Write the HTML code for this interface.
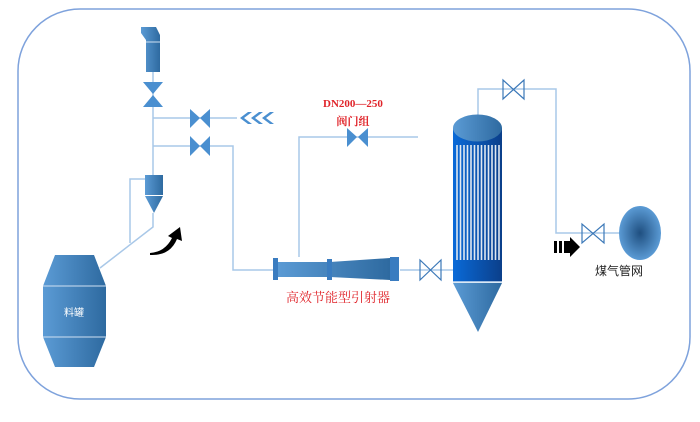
<!DOCTYPE html>
<html><head><meta charset="utf-8"><style>body{margin:0;background:#fff}svg{display:block}</style></head><body>
<svg width="700" height="422" viewBox="0 0 700 422" xmlns="http://www.w3.org/2000/svg" font-family="Liberation Serif, Noto Serif CJK SC, serif">
<defs>
<linearGradient id="g" x1="0" x2="1"><stop offset="0" stop-color="#5b9bd5"/><stop offset="1" stop-color="#2e6aa0"/></linearGradient>
<linearGradient id="gc" x1="0" x2="1"><stop offset="0" stop-color="#0a6ad8"/><stop offset="1" stop-color="#0b3f8a"/></linearGradient>
<radialGradient id="rg"><stop offset="0" stop-color="#1f4f80"/><stop offset="1" stop-color="#5b9bd5"/></radialGradient>
</defs>
<rect x="18" y="9" width="672" height="390" rx="62" fill="none" stroke="#7ea2dc" stroke-width="1.5"/>
<g stroke="#a9c8e8" stroke-width="1.5" fill="none">
<path d="M153 72V175M153 118H237M153 146H233V270H273M153 213V227L100 268M130 243V179H145M299 257V137H418M400 270H453M478 115V89H556V233H619"/>
</g>
<path d="M141 27H156L160 35V72H146V40L141 33Z" fill="url(#g)"/>
<line x1="146" y1="42" x2="160" y2="42" stroke="#cfe0f2" stroke-width="1"/>
<g fill="#4a8fd0">
<path d="M143 82H163L153 94ZM143 107H163L153 95Z"/>
<path d="M190 109V128L200 118ZM210 109V128L200 118Z"/>
<path d="M190 136V156L200 146ZM210 136V156L200 146Z"/>
<path d="M347 128V147L357 137ZM368 128V147L358 137Z"/>
<path d="M248 112L240 118L248 124H252L244 118L252 112Z"/>
<path d="M259 112L251 118L259 124H263L255 118L263 112Z"/>
<path d="M270 112L262 118L270 124H274L266 118L274 112Z"/>
</g>
<g fill="none" stroke="#3b78b8" stroke-width="1.2">
<path d="M420 260V280L441 260V280Z"/>
<path d="M503 80V99L524 80V99Z"/>
<path d="M582 224V243L604 224V243Z"/>
</g>
<path d="M145 175H163V195H145Z" fill="url(#g)"/>
<path d="M145 196H163L154 213Z" fill="url(#g)"/>
<path d="M150 253Q165 252 172 238L168 236L180 227L182 241L177 239Q170 256 150 255Z" fill="#000"/>
<path d="M55 255H94L106 286V337L94 367H55L43 337V286Z" fill="url(#g)"/>
<g stroke="#cfe0f2" stroke-width="1"><line x1="43" y1="286" x2="106" y2="286"/><line x1="43" y1="337" x2="106" y2="337"/></g>
<text x="74" y="316" fill="#fff" font-size="10" text-anchor="middle" font-family="Liberation Sans, Noto Sans CJK SC, sans-serif">料罐</text>
<path d="M276 262H330L390 258V280L330 277H276Z" fill="url(#g)"/>
<rect x="273" y="258" width="5" height="22" fill="#3a7cc0"/>
<rect x="327" y="259" width="5" height="21" fill="#3a7cc0"/>
<rect x="390" y="257" width="9" height="24" fill="#3a7cc0"/>
<text x="338" y="302" fill="#e0242a" font-size="13" text-anchor="middle">高效节能型引射器</text>
<text x="353" y="107" fill="#e0242a" font-size="11" font-weight="bold" text-anchor="middle">DN200—250</text>
<text x="353" y="125" fill="#e0242a" font-size="11" font-weight="bold" text-anchor="middle">阀门组</text>
<rect x="453" y="128" width="49" height="154" fill="url(#gc)"/>
<ellipse cx="477.5" cy="128" rx="24.5" ry="13.5" fill="url(#g)"/>
<g stroke="#dfe8f1" stroke-width="1.6">
<path d="M457 145V260M460.5 145V260M464 145V260M467.5 145V260M471 145V260M474.5 145V260M478 145V260M481.5 145V260M485 145V260M488.5 145V260M492 145V260M495.5 145V260M499 145V260"/>
</g>
<line x1="453" y1="282" x2="502" y2="282" stroke="#cfe0f2" stroke-width="1.5"/>
<path d="M453 283H502L478 332Z" fill="url(#g)"/>
<ellipse cx="640" cy="233" rx="21" ry="27" fill="url(#rg)"/>
<text x="619" y="275" fill="#222" font-size="12" text-anchor="middle" font-family="Liberation Sans, Noto Sans CJK SC, sans-serif">煤气管网</text>
<path d="M554 241H557V253H554ZM559 241H562V253H559ZM564 241H570V237L580 247L570 257V253H564Z" fill="#000"/>
</svg>
</body></html>
